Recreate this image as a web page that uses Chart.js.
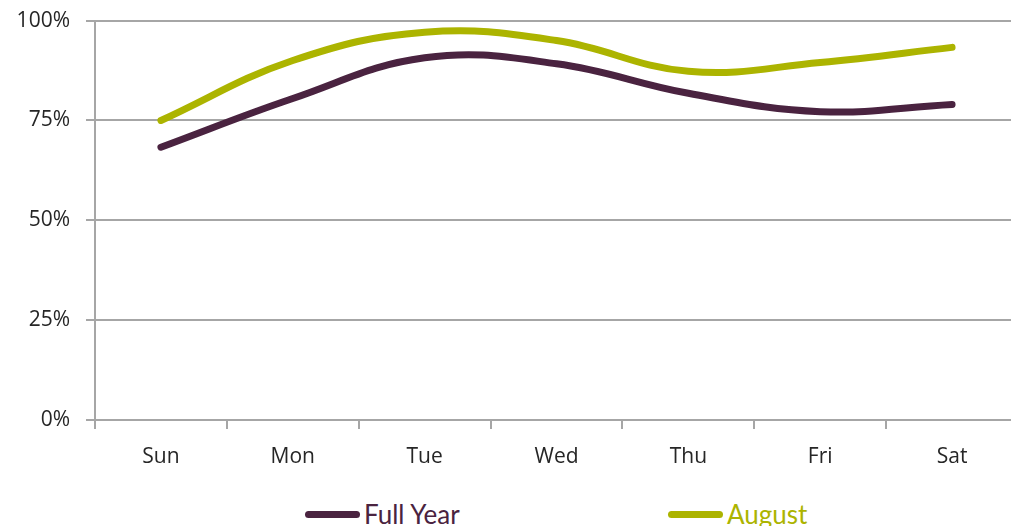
<!DOCTYPE html>
<html>
<head>
<meta charset="utf-8">
<script src="https://cdn.jsdelivr.net/npm/chart.js@4/dist/chart.umd.min.js"></script>
<style>
  html, body { margin: 0; padding: 0; background: #fff; overflow: hidden; }
  #wrap { width: 1011px; height: 526px; position: relative; overflow: hidden; }
  #chartBox { position: absolute; left: 0; top: -8px; width: 1022px; height: 498px; }
  .legend-item {
    position: absolute; top: 497px; height: 34px;
    display: flex; align-items: center;
    font-family: Lato, "Open Sans", sans-serif; font-size: 26px;
  }
  .legend-item .swatch {
    display: inline-block; width: 55px; height: 7px; border-radius: 4px; margin-right: 4px;
  }
</style>
</head>
<body>
<div id="wrap">
  <div id="chartBox"><canvas id="chart"></canvas></div>
  <div id="legend"></div>
</div>
<script>
const days = ["Sun", "Mon", "Tue", "Wed", "Thu", "Fri", "Sat"];
const fullYear = [68.3, 80.5, 90.7, 89.2, 81.8, 77.2, 79];
const august = [75, 90, 97.1, 95, 87.3, 89.5, 93.3];
const yTicks = [0, 25, 50, 75, 100];

const seriesNames = ["Full Year", "August"];
const seriesColors = ["#4a2340", "#acb400"];
const legendLeft = [305, 668];

const gridColor = "#a6a6a6";
const tickFont = { family: "'Open Sans', sans-serif", size: 21, weight: 400 };

const chart = new Chart(document.getElementById("chart"), {
  type: "line",
  data: {
    labels: days,
    datasets: [
      {
        label: seriesNames[0],
        data: fullYear,
        borderColor: seriesColors[0],
        borderWidth: 7,
        borderCapStyle: "round",
        pointRadius: 0,
        tension: 0.4,
        fill: false
      },
      {
        label: seriesNames[1],
        data: august,
        borderColor: seriesColors[1],
        borderWidth: 7,
        borderCapStyle: "round",
        pointRadius: 0,
        tension: 0.4,
        fill: false
      }
    ]
  },
  options: {
    responsive: true,
    maintainAspectRatio: false,
    animation: false,
    layout: { padding: { top: 0, right: 4, left: 0, bottom: 0 } },
    plugins: {
      tooltip: { enabled: false },
      legend: { display: false }
    },
    scales: {
      x: {
        offset: true,
        grid: {
          offset: true,
          drawOnChartArea: false,
          drawTicks: true,
          tickLength: 9,
          color: gridColor,
          lineWidth: 2
        },
        border: { color: gridColor, width: 2 },
        ticks: { color: "#262626", font: tickFont, padding: 15 },
        afterFit: (scale) => { scale.height = 70; }
      },
      y: {
        min: 0,
        max: 100,
        afterBuildTicks: (scale) => { scale.ticks = yTicks.map(v => ({ value: v })); },
        grid: {
          color: gridColor,
          lineWidth: 2,
          tickLength: 9
        },
        border: { color: gridColor, width: 2 },
        ticks: {
          color: "#262626",
          font: tickFont,
          padding: 16,
          callback: (v) => v + "%"
        },
        afterFit: (scale) => { scale.width = 95; }
      }
    }
  }
});

// html legend, spaced out like the original
const legend = document.getElementById("legend");
seriesNames.forEach((name, i) => {
  const item = document.createElement("div");
  item.className = "legend-item";
  item.style.left = legendLeft[i] + "px";
  item.style.color = seriesColors[i];
  item.innerHTML = `<span class="swatch" style="background:${seriesColors[i]}"></span>${name}`;
  legend.appendChild(item);
});
</script>
</body>
</html>
